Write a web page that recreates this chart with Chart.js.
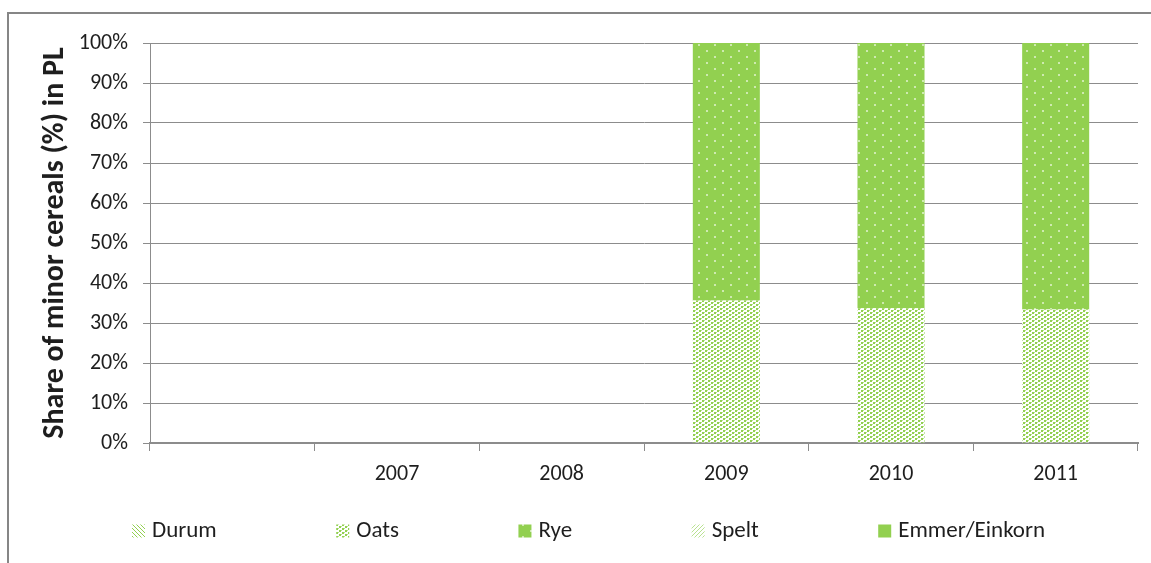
<!DOCTYPE html>
<html>
<head>
<meta charset="utf-8">
<script src="https://cdn.jsdelivr.net/npm/chart.js@4/dist/chart.umd.min.js"></script>
<style>
  body { margin: 0; background: #fff; }
  #wrap { width: 1151px; height: 563px; position: relative; }
</style>
</head>
<body>
<div id="wrap"><canvas id="cereals-chart"></canvas></div>
<script>
// categories and shares (%) of minor cereals
const years = ['', '2007', '2008', '2009', '2010', '2011'];
const durum = [null, null, null, 0, 0, 0];
const oats = [null, null, null, 35.6, 33.7, 33.4];
const rye = [null, null, null, 64.4, 66.3, 66.6];
const spelt = [null, null, null, 0, 0, 0];
const emmer = [null, null, null, 0, 0, 0];
const yTicks = [0, 10, 20, 30, 40, 50, 60, 70, 80, 90, 100];

const green = '#92d050';
const lightGreen = '#b9e291';
const fontFamily = "Carlito, Lato, 'Open Sans', sans-serif";
const textColor = '#1e1e1e';
const gridColor = '#8c8c8c';

// small tiles used as fill patterns
const makePattern = (w, h, paint) => {
    const c = document.createElement('canvas');
    c.width = w;
    c.height = h;
    paint(c.getContext('2d'));
    return c.getContext('2d').createPattern(c, 'repeat');
};

const durumFill = makePattern(4, 4, (ctx) => {
    ctx.fillStyle = '#fff';
    ctx.fillRect(0, 0, 4, 4);
    ctx.fillStyle = green;
    for (let i = 0; i < 4; i++) ctx.fillRect(i, i, 1, 1);
});
const oatsFill = makePattern(6, 4, (ctx) => {
    ctx.fillStyle = '#fff';
    ctx.fillRect(0, 0, 6, 4);
    ctx.fillStyle = green;
    ctx.fillRect(0, 0, 2, 2);
    ctx.fillRect(3, 2, 2, 2);
    ctx.fillStyle = lightGreen;
    ctx.fillRect(2, 0, 1, 1);
    ctx.fillRect(5, 2, 1, 1);
});
const ryeFill = makePattern(16, 12, (ctx) => {
    ctx.fillStyle = green;
    ctx.fillRect(0, 0, 16, 12);
    ctx.fillStyle = 'rgba(255,255,255,0.55)';
    ctx.fillRect(2, 2, 2, 2);
    ctx.fillRect(10, 8, 2, 2);
});
const speltFill = makePattern(4, 4, (ctx) => {
    ctx.fillStyle = '#fff';
    ctx.fillRect(0, 0, 4, 4);
    ctx.fillStyle = lightGreen;
    for (let i = 0; i < 4; i++) ctx.fillRect(3 - i, i, 1, 1);
});

// outer frame of the chart object
const framePlugin = {
    id: 'frame',
    beforeDraw(chart) {
        const ctx = chart.ctx;
        ctx.save();
        ctx.fillStyle = '#fff';
        ctx.fillRect(0, 0, chart.width, chart.height);
        ctx.strokeStyle = '#868686';
        ctx.lineWidth = 2;
        ctx.beginPath();
        ctx.moveTo(8, chart.height + 2);
        ctx.lineTo(8, 13);
        ctx.lineTo(chart.width + 2, 13);
        ctx.stroke();
        ctx.restore();
    }
};

// legend row under the axis, fixed gap between entries
const legendPlugin = {
    id: 'rowLegend',
    afterDraw(chart) {
        const ctx = chart.ctx;
        const box = 13;
        const yMid = 531;
        let x = 132;
        ctx.save();
        ctx.font = '23px ' + fontFamily;
        ctx.textBaseline = 'middle';
        chart.data.datasets.forEach((ds) => {
            ctx.fillStyle = ds.backgroundColor;
            ctx.fillRect(x, yMid - box / 2, box, box);
            ctx.fillStyle = textColor;
            ctx.fillText(ds.label, x + box + 7, yMid);
            x += box + 7 + ctx.measureText(ds.label).width + 119.5;
        });
        ctx.restore();
    }
};

const datasets = [
    { label: 'Durum', data: durum, backgroundColor: durumFill },
    { label: 'Oats', data: oats, backgroundColor: oatsFill },
    { label: 'Rye', data: rye, backgroundColor: ryeFill },
    { label: 'Spelt', data: spelt, backgroundColor: speltFill },
    { label: 'Emmer/Einkorn', data: emmer, backgroundColor: green }
];

const chartConfig = {
    type: 'bar',
    data: { labels: years, datasets: datasets },
    options: {
        responsive: true,
        maintainAspectRatio: false,
        animation: false,
        layout: { padding: { left: 0, top: 43, right: 13, bottom: 60 } },
        datasets: { bar: { categoryPercentage: 1, barPercentage: 0.407, borderWidth: 0 } },
        plugins: { legend: { display: false }, tooltip: { enabled: false } },
        scales: {
            x: {
                stacked: true,
                afterFit: (scale) => { scale.height = 60; },
                grid: { offset: true, drawOnChartArea: false, color: gridColor, tickLength: 8, lineWidth: 1 },
                border: { color: gridColor, width: 2 },
                ticks: { color: textColor, font: { family: fontFamily, size: 22 }, padding: 10, maxRotation: 0 }
            },
            y: {
                stacked: true,
                min: 0,
                max: 100,
                afterFit: (scale) => { scale.width = 150; },
                afterBuildTicks: (scale) => { scale.ticks = yTicks.map((v) => ({ value: v })); },
                grid: { color: gridColor, tickLength: 7, lineWidth: 1 },
                border: { color: gridColor, width: 1 },
                ticks: {
                    color: textColor,
                    font: { family: fontFamily, size: 22 },
                    padding: 15,
                    callback: (v) => v + '%'
                },
                title: {
                    display: true,
                    text: 'Share of minor cereals (%) in PL',
                    color: textColor,
                    font: { family: fontFamily, size: 30, weight: 'bold' },
                    padding: { top: 37, bottom: 0 }
                }
            }
        }
    },
    plugins: [framePlugin, legendPlugin]
};

new Chart(document.querySelector('#cereals-chart'), chartConfig);
</script>
</body>
</html>
